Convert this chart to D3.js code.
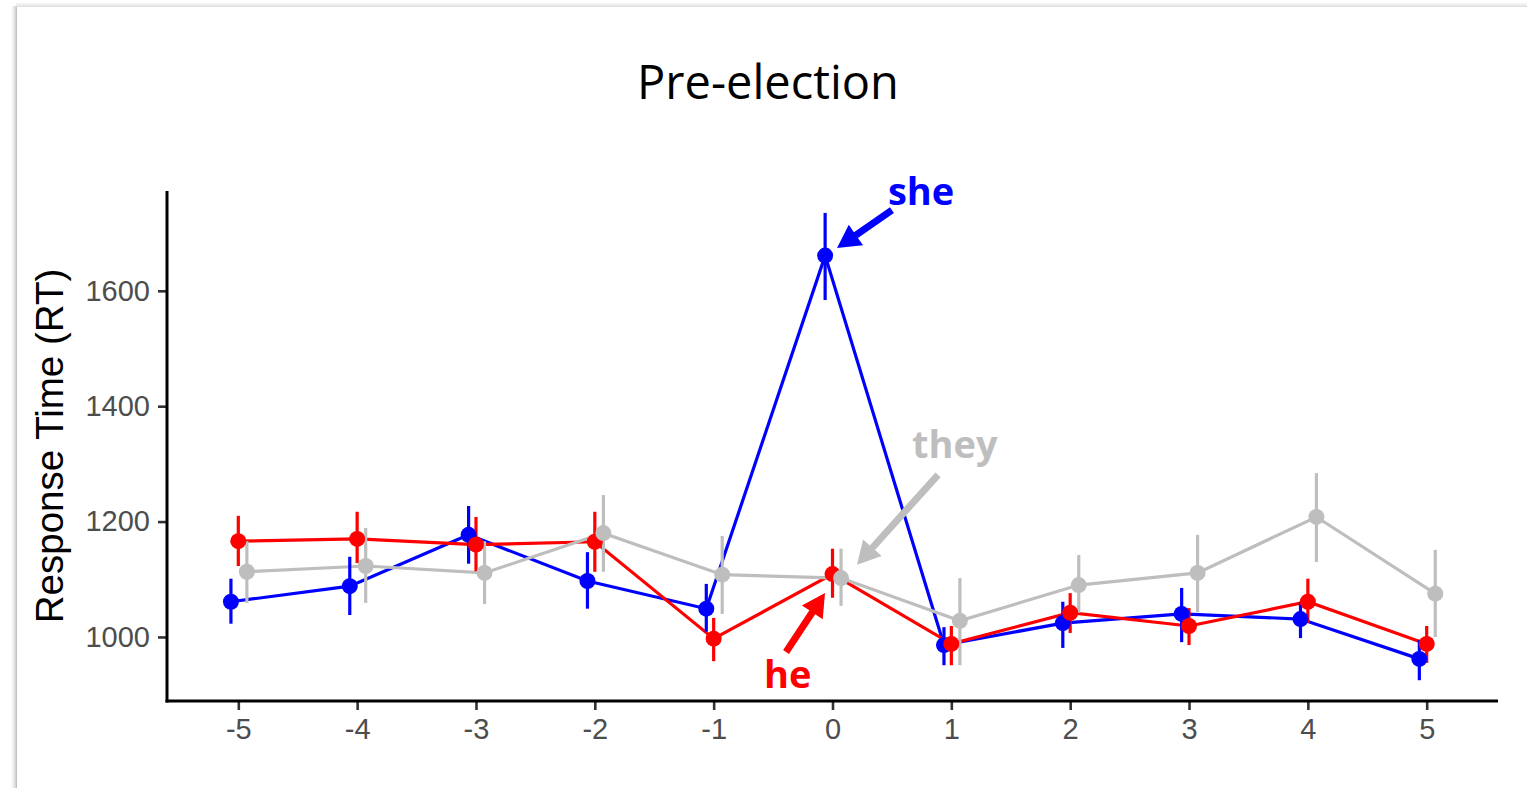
<!DOCTYPE html>
<html>
<head>
<meta charset="utf-8">
<script src="https://cdn.jsdelivr.net/npm/d3@7"></script>
<style>
  html, body { margin: 0; padding: 0; background: #ffffff; }
  svg { display: block; }
</style>
</head>
<body>
<svg id="chart" width="1527" height="788"></svg>
<script>
// ---------------- data ----------------
const positions = [-5, -4, -3, -2, -1, 0, 1, 2, 3, 4, 5];
const xTickLabels = ["-5", "-4", "-3", "-2", "-1", "0", "1", "2", "3", "4", "5"];
const yTickValues = [1000, 1200, 1400, 1600];

const seriesNames = ["she", "he", "they"];

const sheMean  = [1061, 1088, 1177, 1097, 1049, 1661, 986, 1024, 1040, 1031, 962];
const sheLow   = [1023, 1038, 1127, 1049, 1009, 1584, 951, 981, 991, 998, 925];
const sheHigh  = [1101, 1139, 1227, 1147, 1092, 1735, 1017, 1061, 1085, 1061, 995];

const heMean   = [1166, 1170, 1160, 1165, 997, 1109, 988, 1042, 1019, 1061, 988];
const heLow    = [1123, 1128, 1114, 1113, 958, 1068, 951, 1007, 986, 1024, 955];
const heHigh   = [1210, 1217, 1208, 1217, 1033, 1153, 1019, 1076, 1050, 1101, 1019];

const theyMean = [1113, 1123, 1111, 1180, 1108, 1102, 1028, 1090, 1111, 1208, 1075];
const theyLow  = [1059, 1059, 1057, 1113, 1040, 1054, 951, 1042, 1043, 1130, 1000];
const theyHigh = [1166, 1189, 1166, 1246, 1175, 1153, 1102, 1142, 1177, 1284, 1151];

const titleText = "Pre-election";
const yAxisTitle = "Response Time (RT)";

// ---------------- setup ----------------
const W = 1527, H = 788;
const svg = d3.select("#chart");

const colors = { she: "#0000FF", he: "#FF0000", they: "#BEBEBE" };
const dodge = { she: -0.062, he: 0.0, they: 0.072 };

const plot = { left: 167, right: 1498, top: 191, bottom: 701 };

const x = d3.scaleLinear().domain([-5.6, 5.6]).range([plot.left, plot.right]);
const y = d3.scaleLinear().domain([889, 1773]).range([plot.bottom, plot.top]);

const series = [
  { name: "she",  mean: sheMean,  low: sheLow,  high: sheHigh },
  { name: "he",   mean: heMean,   low: heLow,   high: heHigh },
  { name: "they", mean: theyMean, low: theyLow, high: theyHigh }
].map(s => ({
  ...s,
  pts: positions.map((p, i) => ({ x: p + dodge[s.name], m: s.mean[i], lo: s.low[i], hi: s.high[i] }))
}));

// ---------------- card background ----------------
const defs = svg.append("defs");
const gl = defs.append("linearGradient").attr("id", "shadowL").attr("x1", "0").attr("x2", "1");
gl.append("stop").attr("offset", "0").attr("stop-color", "#ffffff");
gl.append("stop").attr("offset", "0.6").attr("stop-color", "#e2e2e2");
gl.append("stop").attr("offset", "1").attr("stop-color", "#b8b8b8");
const gt = defs.append("linearGradient").attr("id", "shadowT").attr("x1", "0").attr("x2", "0").attr("y1", "0").attr("y2", "1");
gt.append("stop").attr("offset", "0").attr("stop-color", "#ffffff");
gt.append("stop").attr("offset", "0.6").attr("stop-color", "#ececec");
gt.append("stop").attr("offset", "1").attr("stop-color", "#dcdcdc");

svg.append("rect").attr("x", 0).attr("y", 0).attr("width", W).attr("height", H).attr("fill", "#ffffff");
svg.append("rect").attr("x", 11).attr("y", 6).attr("width", 6).attr("height", H).attr("fill", "url(#shadowL)");
svg.append("rect").attr("x", 16).attr("y", 2).attr("width", W).attr("height", 5).attr("fill", "url(#shadowT)");
svg.append("rect").attr("x", 17).attr("y", 7).attr("width", W).attr("height", H).attr("fill", "#ffffff");

// ---------------- title ----------------
svg.append("text")
  .attr("x", 768).attr("y", 99)
  .attr("text-anchor", "middle")
  .attr("font-family", "'Open Sans', sans-serif")
  .attr("font-size", 47)
  .attr("fill", "#000")
  .text(titleText);

// ---------------- axes ----------------
const yAxis = d3.axisLeft(y).tickValues(yTickValues).tickSize(9).tickPadding(8).tickFormat(d3.format("d"));
const gy = svg.append("g").attr("transform", `translate(${plot.left},0)`).call(yAxis);
gy.select(".domain").remove();
gy.selectAll(".tick line").attr("stroke", "#333333").attr("stroke-width", 2.6);
gy.selectAll(".tick text")
  .attr("font-family", "'Liberation Sans', Arial, sans-serif")
  .attr("font-size", 29).attr("fill", "#4D4D4D");

const xAxis = d3.axisBottom(x).tickValues(positions).tickSize(9).tickPadding(8)
  .tickFormat((d, i) => xTickLabels[i]);
const gx = svg.append("g").attr("transform", `translate(0,${plot.bottom})`).call(xAxis);
gx.select(".domain").remove();
gx.selectAll(".tick line").attr("stroke", "#333333").attr("stroke-width", 2.6);
gx.selectAll(".tick text")
  .attr("font-family", "'Liberation Sans', Arial, sans-serif")
  .attr("font-size", 29).attr("fill", "#4D4D4D");

// axis lines
svg.append("line").attr("x1", plot.left).attr("x2", plot.left).attr("y1", plot.top).attr("y2", plot.bottom + 1.5)
  .attr("stroke", "#000").attr("stroke-width", 3);
svg.append("line").attr("x1", plot.left - 1.5).attr("x2", plot.right).attr("y1", plot.bottom).attr("y2", plot.bottom)
  .attr("stroke", "#000").attr("stroke-width", 3);

// y axis title
svg.append("text")
  .attr("transform", `translate(63,${(plot.top + plot.bottom) / 2}) rotate(-90)`)
  .attr("text-anchor", "middle")
  .attr("font-family", "'Liberation Sans', Arial, sans-serif")
  .attr("font-size", 38.5)
  .attr("fill", "#000")
  .text(yAxisTitle);

// ---------------- marks ----------------
const line = d3.line().x(d => x(d.x)).y(d => y(d.m));

const gLines = svg.append("g");
series.forEach(s => {
  gLines.append("path").datum(s.pts)
    .attr("d", line).attr("fill", "none")
    .attr("stroke", colors[s.name]).attr("stroke-width", 3.2);
});

const gErr = svg.append("g");
series.forEach(s => {
  gErr.selectAll(null).data(s.pts).enter().append("line")
    .attr("x1", d => x(d.x)).attr("x2", d => x(d.x))
    .attr("y1", d => y(d.lo)).attr("y2", d => y(d.hi))
    .attr("stroke", colors[s.name]).attr("stroke-width", 3.2);
});

const gPts = svg.append("g");
series.forEach(s => {
  gPts.selectAll(null).data(s.pts).enter().append("circle")
    .attr("cx", d => x(d.x)).attr("cy", d => y(d.m)).attr("r", 8)
    .attr("fill", colors[s.name]);
});

// ---------------- annotations ----------------
const annotations = [
  { label: "she",  color: colors.she,  tx: 0.467, ty: 1749, from: [0.50, 1740],  to: [0.038, 1674] },
  { label: "they", color: colors.they, tx: 0.669, ty: 1310, from: [0.888, 1281], to: [0.206, 1125] },
  { label: "he",   color: colors.he,   tx: -0.576, ty: 912, from: [-0.391, 974], to: [-0.063, 1076] }
];

function arrowPath(x0, y0, x1, y1, shaftW, headL, headW) {
  const dx = x1 - x0, dy = y1 - y0;
  const L = Math.hypot(dx, dy);
  const ux = dx / L, uy = dy / L;
  const px = -uy, py = ux;
  const bx = x1 - ux * headL, by = y1 - uy * headL;
  const p = [
    [x0 + px * shaftW / 2, y0 + py * shaftW / 2],
    [bx + px * shaftW / 2, by + py * shaftW / 2],
    [bx + px * headW / 2, by + py * headW / 2],
    [x1, y1],
    [bx - px * headW / 2, by - py * headW / 2],
    [bx - px * shaftW / 2, by - py * shaftW / 2],
    [x0 - px * shaftW / 2, y0 - py * shaftW / 2]
  ];
  return "M" + p.map(q => q[0].toFixed(2) + "," + q[1].toFixed(2)).join("L") + "Z";
}

const gAnn = svg.append("g");
annotations.forEach(a => {
  gAnn.append("path")
    .attr("d", arrowPath(x(a.from[0]), y(a.from[1]), x(a.to[0]), y(a.to[1]), 7, 23, 25))
    .attr("fill", a.color);
  gAnn.append("text")
    .attr("x", x(a.tx)).attr("y", y(a.ty))
    .attr("font-family", "'Open Sans', sans-serif")
    .attr("font-weight", "bold")
    .attr("font-size", 38)
    .attr("fill", a.color)
    .text(a.label);
});
</script>
</body>
</html>
